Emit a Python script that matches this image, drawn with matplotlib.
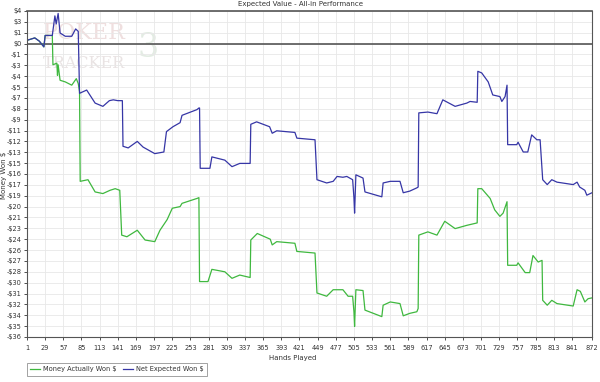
"""Expected Value - All-in Performance chart."""

import matplotlib

matplotlib.use("Agg")
import matplotlib.pyplot as plt
import numpy as np

# hand number / dollar value pairs
net_hands = [1, 13, 20, 27, 29, 40, 44, 46, 49, 52, 60, 70, 76, 80, 82, 93, 106, 118, 128, 134,
             141, 148, 149, 157, 171, 180, 198, 212, 216, 226, 237, 240, 263, 266, 267, 268, 283,
             286, 306, 317, 329, 345, 346, 355, 375, 379, 386, 414, 417, 445, 448, 463, 473, 479,
             488, 494, 503, 505, 506, 508, 519, 522, 548, 550, 561, 576, 581, 591, 602, 604, 605,
             619, 633, 642, 661, 679, 684, 695, 696, 702, 712, 719, 730, 733, 738, 741, 742, 756,
             758, 766, 773, 779, 787, 792, 796, 803, 810, 818, 843, 849, 853, 861, 864, 872]
net_won = [0.4, 0.7, 0.3, -0.4, 1.0, 1.0, 3.4, 2.4, 3.7, 1.3, 0.9, 0.9, 1.8, 1.5, -6.1, -5.7, -7.3,
           -7.7, -7.0, -6.9, -7.0, -7.0, -12.6, -12.8, -12.0, -12.7, -13.5, -13.3, -10.8, -10.2,
           -9.7, -8.8, -8.1, -7.9, -7.9, -15.3, -15.3, -13.9, -14.3, -15.1, -14.7, -14.7, -9.9,
           -9.6, -10.2, -11.0, -10.7, -10.9, -11.6, -11.8, -16.7, -17.1, -16.9, -16.3, -16.4,
           -16.3, -16.7, -18.9, -20.8, -16.1, -16.5, -18.2, -18.8, -17.1, -16.9, -16.9, -18.3,
           -18.1, -17.7, -17.6, -8.5, -8.4, -8.6, -6.9, -7.7, -7.3, -7.1, -7.2, -3.4, -3.6, -4.7,
           -6.3, -6.5, -7.1, -6.5, -5.1, -12.4, -12.4, -12.1, -13.3, -13.3, -11.2, -11.8, -11.8,
           -16.7, -17.3, -16.7, -17.0, -17.3, -17.0, -17.6, -18.0, -18.6, -18.3]

actual_hands = [1, 13, 20, 27, 29, 40, 41, 47, 48, 49, 52, 60, 70, 77, 80, 82, 83, 95, 106, 118,
                129, 137, 144, 147, 155, 171, 183, 198, 206, 217, 225, 237, 240, 263, 266, 267,
                280, 286, 306, 317, 329, 345, 346, 356, 376, 379, 386, 414, 417, 445, 448, 463,
                473, 488, 496, 503, 505, 506, 508, 519, 522, 548, 550, 561, 576, 581, 591, 602,
                604, 605, 619, 633, 645, 661, 679, 695, 696, 702, 715, 722, 730, 735, 741, 742,
                756, 758, 769, 776, 781, 789, 795, 796, 803, 810, 818, 843, 849, 854, 861, 866, 872]
actual_won = [0.4, 0.7, 0.3, -0.4, 1.0, 1.0, -2.6, -2.4, -3.9, -2.6, -4.5, -4.7, -5.1, -4.3, -4.9,
              -5.9, -16.9, -16.7, -18.2, -18.4, -18.0, -17.8, -18.0, -23.5, -23.7, -22.9, -24.1,
              -24.3, -22.9, -21.6, -20.2, -20.0, -19.6, -19.0, -18.9, -29.2, -29.2, -27.7, -28.0,
              -28.8, -28.4, -28.7, -24.1, -23.3, -24.0, -24.7, -24.3, -24.5, -25.5, -25.7, -30.6,
              -31.0, -30.2, -30.2, -31.0, -31.0, -32.9, -34.7, -30.2, -30.3, -32.7, -33.5, -32.1,
              -31.7, -31.9, -33.4, -33.1, -32.9, -32.5, -23.5, -23.1, -23.5, -21.8, -22.7, -22.3,
              -22.0, -17.8, -17.8, -19.0, -20.4, -21.2, -20.8, -19.4, -27.2, -27.2, -26.9, -28.1,
              -28.1, -26.0, -26.8, -26.6, -31.5, -32.1, -31.5, -31.9, -32.2, -30.2, -30.4, -31.7,
              -31.3, -31.2]

x_ticks = [1, 29, 57, 85, 113, 141, 169, 197, 225, 253, 281, 309, 337, 365, 393, 421, 449, 477,
           505, 533, 561, 589, 617, 645, 673, 701, 729, 757, 785, 813, 841, 872]
y_labels = ["$4", "$3", "$1", "$0", "-$1", "-$3", "-$4", "-$5", "-$7", "-$8", "-$9", "-$11",
            "-$12", "-$13", "-$15", "-$16", "-$17", "-$19", "-$20", "-$21", "-$23", "-$24",
            "-$26", "-$27", "-$28", "-$30", "-$31", "-$32", "-$34", "-$35", "-$36"]

GREEN = "#3fb83f"
BLUE = "#3636a6"
AXIS = "#555555"
TEXT = "#333333"

fig = plt.figure(figsize=(6, 3.82), dpi=100)
ax = fig.add_axes([27 / 600, 1 - 337 / 382, 565 / 600, 326 / 382])

y_pos = np.linspace(4, -36, len(y_labels))
ax.set_xlim(1, 872)
ax.set_ylim(-36, 4)
ax.set_xticks(x_ticks)
ax.set_xticklabels([str(t) for t in x_ticks])
ax.set_yticks(y_pos)
ax.set_yticklabels(y_labels)
ax.tick_params(labelsize=4.8, colors=TEXT, length=2.5, width=0.6, pad=1.5)
ax.tick_params(axis="x", pad=3)
ax.grid(True, color="#e8e8e8", linewidth=0.6)
ax.set_axisbelow(True)
for side in ax.spines.values():
    side.set_color(AXIS)
    side.set_linewidth(0.8)
ax.spines["top"].set_linewidth(1.2)
ax.axhline(0, color=AXIS, linewidth=1.2, zorder=1)

# faint watermark
ax.text(26, 0.6, "POKER", fontsize=16, family="DejaVu Serif", color="#efdfdf", zorder=0)
ax.text(172, -1.6, "3", fontsize=24, family="DejaVu Serif", color="#e3ece3", zorder=0)
ax.text(26, -3.0, "TRACKER", fontsize=11.5, family="DejaVu Serif", color="#e9e3e3", zorder=0)

l1, = ax.plot(actual_hands, actual_won, color=GREEN, linewidth=0.9, label="Money Actually Won $")
l2, = ax.plot(net_hands, net_won, color=BLUE, linewidth=0.9, label="Net Expected Won $")

fig.text(0.5, 1 - 4 / 382, "Expected Value - All-in Performance", ha="center", va="center",
         fontsize=5, color=TEXT)
fig.text(4 / 600, 1 - 175 / 382, "Money Won $", rotation=90, ha="center", va="center",
         fontsize=5, color=TEXT)
fig.text(293 / 600, 1 - 358 / 382, "Hands Played", ha="center", va="center",
         fontsize=5, color=TEXT)

leg = fig.legend(handles=[l1, l2], loc="upper left", bbox_to_anchor=(27 / 600, 1 - 363 / 382),
                 ncol=2, fontsize=4.8, frameon=True, fancybox=False, borderpad=0.5,
                 handlelength=1.4, columnspacing=1.0, handletextpad=0.5, borderaxespad=0)
leg.get_frame().set_edgecolor("#777777")
leg.get_frame().set_linewidth(0.6)
for t in leg.get_texts():
    t.set_color(TEXT)

fig.savefig("out.png", dpi=100)
plt.close(fig)
